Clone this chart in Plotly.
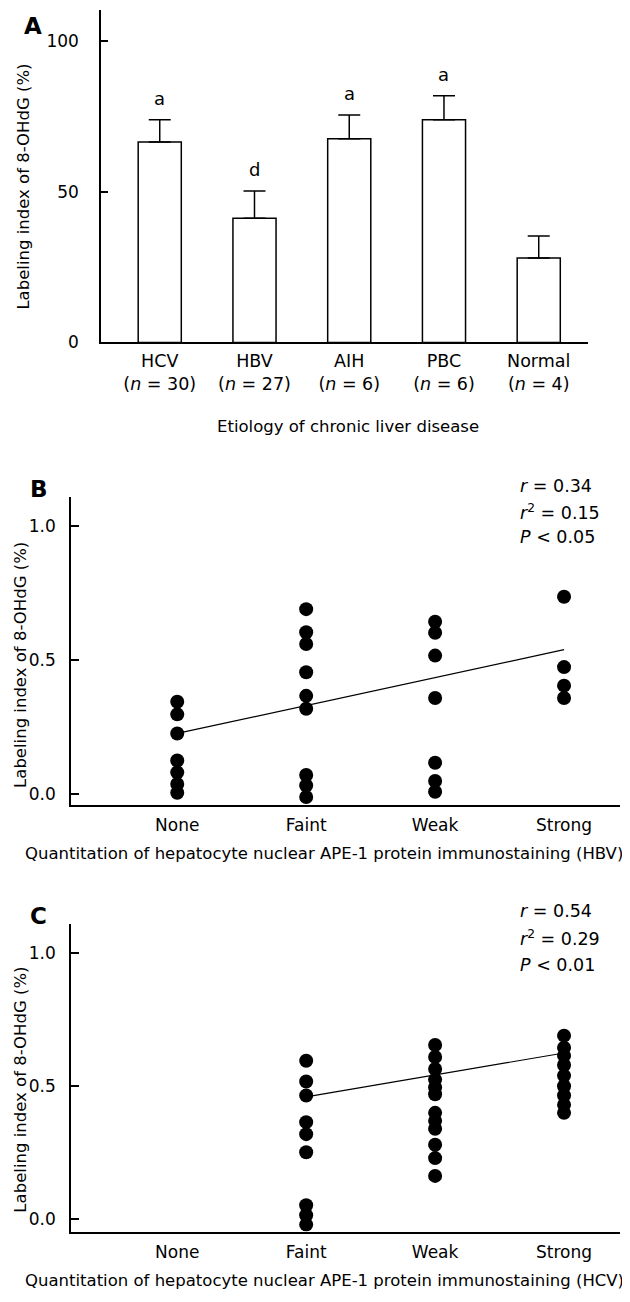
import plotly.graph_objects as go

# ---------------- Panel A data ----------------
etiology = ["HCV", "HBV", "AIH", "PBC", "Normal"]
etiology_n = [30, 27, 6, 6, 4]
labeling_mean = [66.4, 41.2, 67.5, 73.8, 28.0]
labeling_sem = [7.4, 9.0, 7.9, 8.0, 7.3]
sig_letters = ["a", "d", "a", "a", ""]

# ---------------- Panel B / C data ----------------
levels = ["None", "Faint", "Weak", "Strong"]

hbv_none = [0.344, 0.297, 0.226, 0.125, 0.081, 0.038, 0.005]
hbv_faint = [0.689, 0.603, 0.559, 0.454, 0.366, 0.318, 0.071, 0.032, -0.011]
hbv_weak = [0.642, 0.601, 0.516, 0.358, 0.117, 0.049, 0.009]
hbv_strong = [0.735, 0.473, 0.404, 0.358]
hbv_fit_x = ["None", "Strong"]
hbv_fit_y = [0.226, 0.538]
hbv_stats = ["<i>r</i> = 0.34", "<i>r</i><sup>2</sup> = 0.15", "<i>P</i> < 0.05"]

hcv_none = []
hcv_faint = [0.596, 0.518, 0.465, 0.365, 0.32, 0.252, 0.053, 0.015, -0.02]
hcv_weak = [0.655, 0.61, 0.565, 0.525, 0.495, 0.47, 0.40, 0.37, 0.34, 0.28, 0.23, 0.163]
hcv_strong = [0.69, 0.645, 0.615, 0.58, 0.54, 0.50, 0.465, 0.43, 0.40]
hcv_fit_x = ["Faint", "Strong"]
hcv_fit_y = [0.46, 0.625]
hcv_stats = ["<i>r</i> = 0.54", "<i>r</i><sup>2</sup> = 0.29", "<i>P</i> < 0.01"]

FONT = "DejaVu Sans"
W, H = 630, 1302


def px(x):
    return x / W


def py(y):
    return 1 - y / H


fig = go.Figure()

# ---- Panel A bars ----
fig.add_trace(go.Bar(
    x=etiology, y=labeling_mean,
    width=0.455,
    marker=dict(color="white", line=dict(color="black", width=1.5)),
    error_y=dict(type="data", array=labeling_sem, arrayminus=[0] * len(labeling_sem),
                 symmetric=False, color="black", thickness=1.5, width=11),
    xaxis="x", yaxis="y", showlegend=False, hoverinfo="skip",
))


def scatter_panel(groups, fit_x, fit_y, xa, ya):
    fig.add_trace(go.Scatter(x=fit_x, y=fit_y, mode="lines",
                             line=dict(color="black", width=1.2),
                             xaxis=xa, yaxis=ya, showlegend=False, hoverinfo="skip"))
    xs, ys = [], []
    for lev, vals in zip(levels, groups):
        xs += [lev] * len(vals)
        ys += vals
    fig.add_trace(go.Scatter(x=xs, y=ys, mode="markers",
                             marker=dict(color="black", size=14, line=dict(width=0)),
                             xaxis=xa, yaxis=ya, showlegend=False, hoverinfo="skip"))


scatter_panel([hbv_none, hbv_faint, hbv_weak, hbv_strong], hbv_fit_x, hbv_fit_y, "x2", "y2")
scatter_panel([hcv_none, hcv_faint, hcv_weak, hcv_strong], hcv_fit_x, hcv_fit_y, "x3", "y3")

axis_common = dict(showline=True, linecolor="black", linewidth=1.5, showgrid=False,
                   zeroline=False, color="black")

fig.update_layout(
    width=W, height=H,
    margin=dict(l=0, r=0, t=0, b=0),
    paper_bgcolor="white", plot_bgcolor="white",
    font=dict(family=FONT, color="black", size=16),
    showlegend=False,
    # Panel A
    xaxis=dict(**axis_common, domain=[px(93), px(580)], anchor="y",
               type="category", categoryorder="array", categoryarray=etiology,
               range=[-0.62, 4.52], ticks="",
               tickvals=etiology,
               ticktext=[f"{c}<br>(<i>n</i> = {n})" for c, n in zip(etiology, etiology_n)],
               tickfont=dict(size=17.5), ticklabelstandoff=2),
    yaxis=dict(**axis_common, domain=[py(337), py(1.7)], anchor="x",
               range=[0, 110.3], tickvals=[0, 50, 100], ticks="inside", ticklen=7,
               tickwidth=1.5, tickcolor="black", tickfont=dict(size=17), ticklabelstandoff=17),
    # Panel B
    xaxis2=dict(**axis_common, domain=[px(63), px(612)], anchor="y2",
                type="category", categoryorder="array", categoryarray=levels,
                range=[-0.824, 3.434], ticks="", tickfont=dict(size=17), ticklabelstandoff=4),
    yaxis2=dict(**axis_common, domain=[py(803), py(492.7)], anchor="x2",
                range=[-0.04, 1.107], tickvals=[0, 0.5, 1.0], ticktext=["0.0", "0.5", "1.0"],
                ticks="inside", ticklen=8, tickwidth=1.5, tickcolor="black",
                tickfont=dict(size=17), ticklabelstandoff=10),
    # Panel C
    xaxis3=dict(**axis_common, domain=[px(63), px(612)], anchor="y3",
                type="category", categoryorder="array", categoryarray=levels,
                range=[-0.824, 3.434], ticks="", tickfont=dict(size=17), ticklabelstandoff=4),
    yaxis3=dict(**axis_common, domain=[py(1233), py(923)], anchor="x3",
                range=[-0.046, 1.11], tickvals=[0, 0.5, 1.0], ticktext=["0.0", "0.5", "1.0"],
                ticks="inside", ticklen=8, tickwidth=1.5, tickcolor="black",
                tickfont=dict(size=17), ticklabelstandoff=10),
)

ann = []
# significance letters
for c, m, e, s in zip(etiology, labeling_mean, labeling_sem, sig_letters):
    if s:
        ann.append(dict(x=c, y=m + e, xref="x", yref="y", text=s, showarrow=False,
                        xanchor="center", yanchor="bottom", yshift=9, font=dict(size=18)))


def paper_text(x, y, text, size=16.5, xanchor="center", **kw):
    d = dict(x=px(x), y=py(y), xref="paper", yref="paper", text=text, showarrow=False,
             xanchor=xanchor, yanchor="middle",
             font=dict(size=size, family=FONT, color="black"))
    d.update(kw)
    ann.append(d)


# panel letters
paper_text(25, 18.5, "<b>A</b>", size=23)
paper_text(31, 485, "<b>B</b>", size=23)
paper_text(30, 915, "<b>C</b>", size=23)

# axis titles
paper_text(16, 180, "Labeling index of 8-OHdG (%)", textangle=-90)
paper_text(13, 662, "Labeling index of 8-OHdG (%)", textangle=-90)
paper_text(13, 1090, "Labeling index of 8-OHdG (%)", textangle=-90)
paper_text(340, 422, "Etiology of chronic liver disease")
paper_text(316, 852, "Quantitation of hepatocyte nuclear APE-1 protein immunostaining (HBV)")
paper_text(316, 1282, "Quantitation of hepatocyte nuclear APE-1 protein immunostaining (HCV)")

# statistics
for i, t in enumerate(hbv_stats):
    paper_text(510, 482 + 25.5 * i, t, size=17.5, xanchor="left")
for i, t in enumerate(hcv_stats):
    paper_text(510, 910 + 27 * i, t, size=17.5, xanchor="left")

fig.update_layout(annotations=ann)
fig.write_html("out.html")
